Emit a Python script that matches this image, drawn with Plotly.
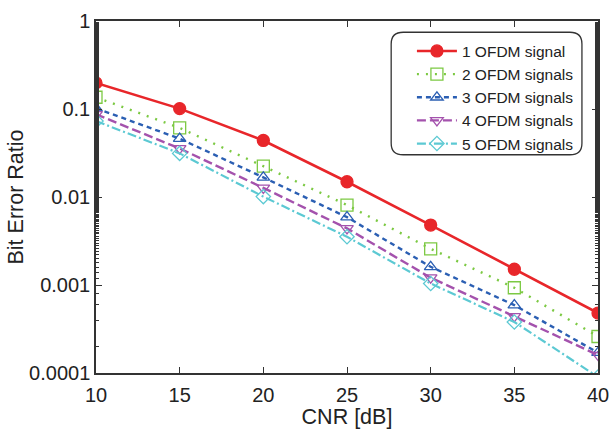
import plotly.graph_objects as go

cnr = [10, 15, 20, 25, 30, 35, 40]
ber_1 = [0.198, 0.101, 0.0439, 0.0149, 0.0048, 0.00151, 0.00048]
ber_2 = [0.136, 0.061, 0.0224, 0.0081, 0.00258, 0.00093, 0.00026]
ber_3 = [0.102, 0.046, 0.0167, 0.0059, 0.00161, 0.00059, 0.00017]
ber_4 = [0.087, 0.0356, 0.0127, 0.0044, 0.00121, 0.00044, 0.00016]
ber_5 = [0.073, 0.0313, 0.0101, 0.00353, 0.00104, 0.00038, 0.00009]

names = ["1 OFDM signal", "2 OFDM signals", "3 OFDM signals", "4 OFDM signals", "5 OFDM signals"]
series = [ber_1, ber_2, ber_3, ber_4, ber_5]
colors = ["#e8262a", "#7cc943", "#2b5fb3", "#a452ad", "#5cc9d3"]
dashes = ["solid", "2px,7px", "5px,4px", "9px,4px", "9px,3px,2px,3px"]
widths = [2.6, 2.4, 2.4, 2.4, 2.2]
symbols = ["circle", "square-open", "triangle-up-open", "triangle-down-open", "diamond-open"]
sizes = [12, 12, 11, 11, 11]

fig = go.Figure()
for n, y, c, d, w, s, sz in zip(names, series, colors, dashes, widths, symbols, sizes):
    fig.add_trace(go.Scatter(
        x=cnr, y=y, name=n, mode="lines+markers",
        line=dict(color=c, width=w, dash=d),
        marker=dict(symbol=s, size=sz, color=c, line=dict(width=1.3, color=c)),
    ))

font_family = "Liberation Sans, Arial, sans-serif"
fig.update_layout(
    width=613, height=429,
    margin=dict(l=96, r=15, t=21, b=56),
    paper_bgcolor="white", plot_bgcolor="white",
    font=dict(family=font_family, color="#222222"),
    showlegend=True,
    legend=dict(
        x=0.962, y=0.962, xanchor="right", yanchor="top",
        bgcolor="rgba(0,0,0,0)", borderwidth=0,
        font=dict(size=15.5, family=font_family, color="#222222"),
        tracegroupgap=0, itemwidth=40,
    ),
    shapes=[dict(
        type="path", xref="paper", yref="paper",
        path="M 0.612,0.968 L 0.944,0.968 Q 0.968,0.968 0.968,0.935 L 0.968,0.653 Q 0.968,0.62 0.944,0.62 L 0.612,0.62 Q 0.588,0.62 0.588,0.653 L 0.588,0.935 Q 0.588,0.968 0.612,0.968 Z",
        line=dict(color="#333333", width=1.3), fillcolor="white", layer="below",
    )],
)
fig.update_xaxes(
    range=[10, 40], tickvals=[10, 15, 20, 25, 30, 35, 40],
    ticks="inside", ticklen=6, tickwidth=1, tickcolor="#333333",
    showline=True, linecolor="#333333", linewidth=1.5, mirror="ticks",
    showgrid=False, zeroline=False, automargin=False, ticklabelstandoff=3,
    tickfont=dict(size=20, family=font_family, color="#222222"),
    title=dict(text="CNR [dB]", font=dict(size=21.5, family=font_family, color="#222222"), standoff=3),
)
fig.update_yaxes(
    type="log", range=[-4, 0],
    tickvals=[1, 0.1, 0.01, 0.001, 0.0001], ticktext=["1", "0.1", "0.01", "0.001", "0.0001"],
    ticks="inside", ticklen=6, tickwidth=1, tickcolor="#333333",
    minor=dict(ticks="inside", ticklen=3, tickcolor="#333333", showgrid=False),
    showline=True, linecolor="#333333", linewidth=1.5, mirror="ticks",
    showgrid=False, zeroline=False, automargin=False,
    tickfont=dict(size=20, family=font_family, color="#222222"),
    title=dict(text="Bit Error Ratio", font=dict(size=21.5, family=font_family, color="#222222"), standoff=0),
)
fig.write_html("out.html", config={"displayModeBar": False},
               post_script="document.body.style.margin='0';")
